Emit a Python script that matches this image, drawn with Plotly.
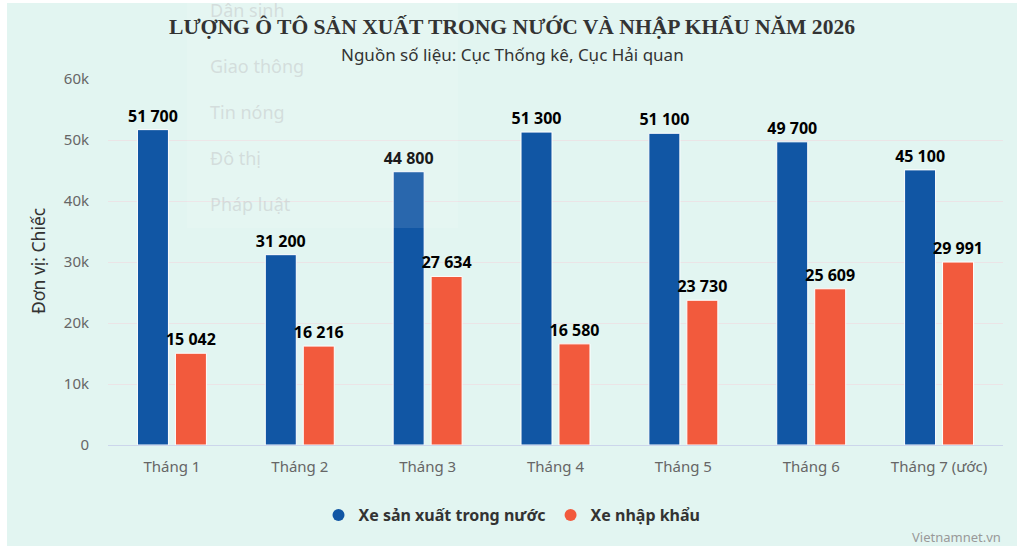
import plotly.graph_objects as go

# so lieu doc tu bieu do
thang = ["Tháng 1", "Tháng 2", "Tháng 3", "Tháng 4", "Tháng 5", "Tháng 6", "Tháng 7 (ước)"]
trong_nuoc = [51700, 31200, 44800, 51300, 51100, 49700, 45100]
nhap_khau = [15042, 16216, 27634, 16580, 23730, 25609, 29991]
y_ticks = [0, 10000, 20000, 30000, 40000, 50000, 60000]
y_ticktext = ["0", "10k", "20k", "30k", "40k", "50k", "60k"]
menu_items = ["Dân sinh", "Giao thông", "Tin nóng", "Đô thị", "Pháp luật"]
menu_y = [10, 66, 112, 158, 204]  # px tu mep tren

BLUE = "#1156a4"
ORANGE = "#f25a3d"
BG = "#e2f5f1"
SANS = "Noto Sans"

# vung ve (px) de doi sang toa do paper
PX_L, PX_R, PX_T, PX_B = 108, 1003, 79, 445


def px_x(x):
    return (x - PX_L) / (PX_R - PX_L)


def px_y(y):
    return (PX_B - y) / (PX_B - PX_T)


def fmt(v):
    return f"{v:,}".replace(",", " ")


fig = go.Figure()
for name, vals, color in [
    ("Xe sản xuất trong nước", trong_nuoc, BLUE),
    ("Xe nhập khẩu", nhap_khau, ORANGE),
]:
    fig.add_bar(
        x=thang,
        y=vals,
        name=name,
        marker=dict(color=color, line=dict(color="white", width=1)),
        text=[fmt(v) for v in vals],
        textposition="outside",
        constraintext="none",
        textfont=dict(family=SANS, size=16, color="#000", weight="bold"),
        cliponaxis=False,
        showlegend=False,
        hoverinfo="skip",
    )
    # chu thich dang hinh tron
    fig.add_scatter(
        x=[None],
        y=[None],
        mode="markers",
        name=name,
        marker=dict(color=color, size=15, symbol="circle"),
    )

fig.update_layout(
    width=1024,
    height=552,
    margin=dict(l=PX_L, r=1024 - PX_R, t=PX_T, b=552 - PX_B),
    paper_bgcolor="white",
    plot_bgcolor="rgba(0,0,0,0)",
    barmode="group",
    bargap=0.406,
    bargroupgap=0.184,
    font=dict(family=SANS, color="#333"),
    showlegend=True,
    legend=dict(
        orientation="h",
        x=px_x(512),
        xanchor="center",
        y=px_y(498),
        yanchor="top",
        font=dict(family=SANS, size=16, color="#333", weight="bold"),
        itemsizing="constant",
        bgcolor="rgba(0,0,0,0)",
    ),
    xaxis=dict(
        showgrid=False,
        showline=True,
        linecolor="#ccd6eb",
        linewidth=1,
        ticks="",
        tickfont=dict(family=SANS, size=15, color="#666"),
        ticklabelstandoff=8,
    ),
    yaxis=dict(
        range=[0, 60000],
        tickvals=y_ticks,
        ticktext=y_ticktext,
        showgrid=True,
        gridcolor="#ebe4e6",
        gridwidth=1,
        zeroline=False,
        showline=False,
        tickfont=dict(family=SANS, size=15, color="#666"),
        ticklabelstandoff=18,
    ),
    shapes=[
        dict(
            type="rect", xref="paper", yref="paper",
            x0=px_x(7), x1=px_x(1017), y0=px_y(546), y1=px_y(3),
            fillcolor=BG, line=dict(width=0), layer="below",
        ),
        dict(
            type="rect", xref="paper", yref="paper",
            x0=px_x(187), x1=px_x(458), y0=px_y(228), y1=px_y(-5),
            fillcolor="rgba(255,255,255,0.1)", line=dict(width=0), layer="above",
        ),
    ],
)

annotations = []
for item, yy in zip(menu_items, menu_y):
    annotations.append(dict(
        text=item, xref="paper", yref="paper",
        x=px_x(208), xanchor="left",
        y=px_y(yy), yanchor="middle", showarrow=False,
        font=dict(family=SANS, size=18, color="rgba(200,205,205,0.6)"),
    ))

annotations += [
    dict(
        text="<b>LƯỢNG Ô TÔ SẢN XUẤT TRONG NƯỚC VÀ NHẬP KHẨU NĂM 2026</b>",
        xref="paper", yref="paper", x=px_x(512), y=px_y(27),
        xanchor="center", yanchor="middle", showarrow=False,
        font=dict(family="Liberation Serif", size=21.6, color="#333"),
    ),
    dict(
        text="Nguồn số liệu: Cục Thống kê, Cục Hải quan",
        xref="paper", yref="paper", x=px_x(512), y=px_y(54),
        xanchor="center", yanchor="middle", showarrow=False,
        font=dict(family=SANS, size=17, color="#333"),
    ),
    dict(
        text="Đơn vị: Chiếc",
        xref="paper", yref="paper", x=px_x(38), y=px_y(261),
        xanchor="center", yanchor="middle", textangle=-90, showarrow=False,
        font=dict(family=SANS, size=17.5, color="#333"),
    ),
    dict(
        text="Vietnamnet.vn",
        xref="paper", yref="paper", x=px_x(1003), y=px_y(537),
        xanchor="right", yanchor="middle", showarrow=False,
        font=dict(family=SANS, size=13, color="#999"),
    ),
]
fig.update_layout(annotations=annotations)

# bo le mac dinh 8px cua body de hinh nam dung vi tri
fig.write_html(
    "out.html",
    config={"displayModeBar": False},
    post_script="document.body.style.margin = '0';",
)
